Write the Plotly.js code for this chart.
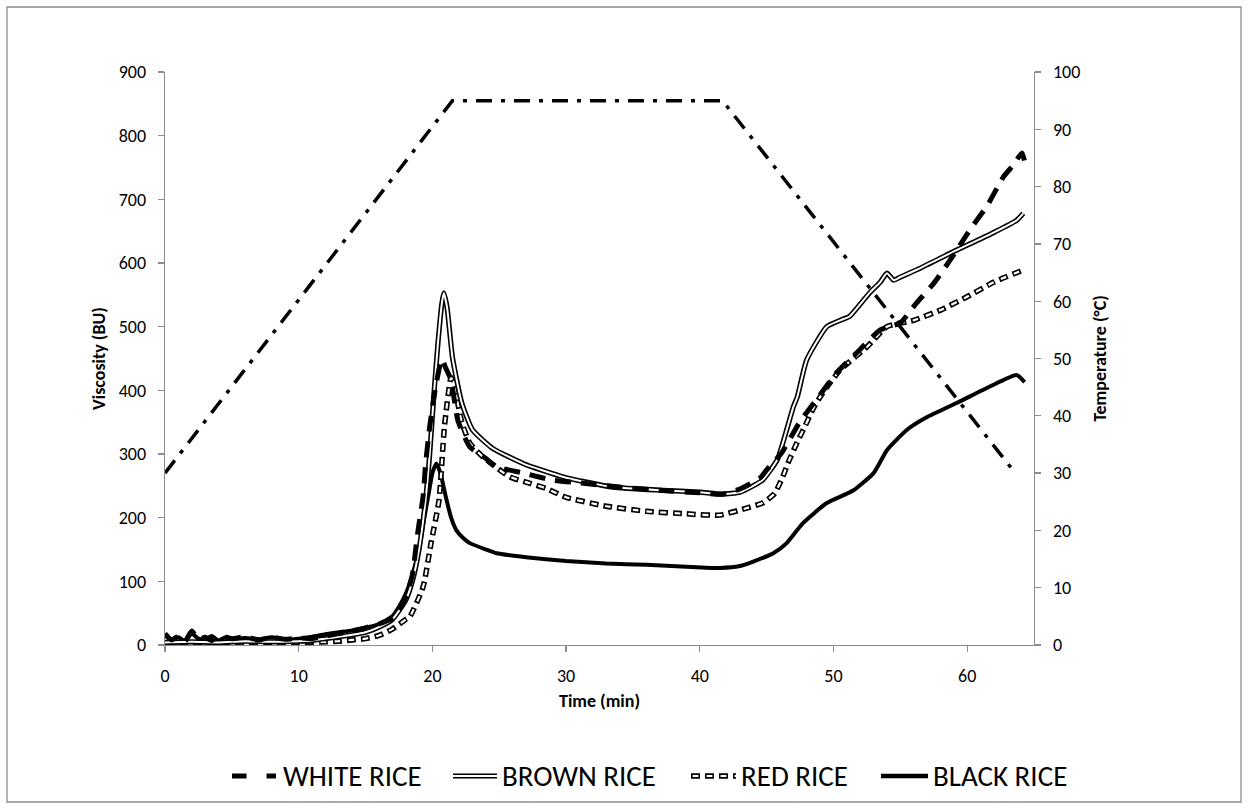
<!DOCTYPE html>
<html>
<head>
<meta charset="utf-8">
<script src="https://cdn.plot.ly/plotly-3.0.1.min.js"></script>
<style>html,body{margin:0;padding:0;background:#fff;}#chart{width:1248px;height:809px;}</style>
</head>
<body>
<div id="chart"></div>
<script>
// ---- data ----
const timeTemp = [0, 21.5, 41.7, 63.6];
const temperature = [30, 95, 95, 30];

const timeWhite = [0,0.5,1,1.5,2,2.5,3,3.5,4,5,6,7,8,9,10,11,12,13,14,15,16,17,17.5,18,18.5,18.9,19.3,19.5,19.8,20.2,20.7,21,21.4,21.9,22.8,24,24.8,26.8,29,31.3,34,37,40,41.7,43,44.5,45,46.1,47.5,49,50.2,51.7,53.5,55,56.2,57.5,58.9,60.2,61.5,62.7,63.5,64.1,64.3];
const viscWhite = [18,8,14,6,22,9,12,7,15,10,13,8,12,9,11,10,14,18,22,27,33,42,55,75,110,176,233,286,343,400,449,435,416,353,311,293,280,270,259,254,248,243,239,237,245,262,275,301,351,393,427,458,495,506,537,568,610,652,690,735,755,773,759];

const timeBrown = [0,2,4,6,8,10,11,12,13,14,15,16,17,18,18.5,19,19.5,19.8,20.1,20.4,20.7,20.85,21.1,21.5,22.2,23,24.5,26.8,29.8,33.5,37.2,40,41.7,43,44,44.7,45.8,46.5,47,47.3,48,49.5,50.5,51.2,52.7,53.5,54,54.5,55,56.2,58.9,61.9,63.7,64.2];
const viscBrown = [4,5,4,6,5,6,7,10,13,16,20,28,40,70,100,150,230,300,390,470,535,553,530,452,380,338,309,285,264,248,243,240,237,240,250,259,291,338,374,390,448,500,510,516,553,570,584,573,578,589,617,647,667,678];

const timeRed = [0,2,4,6,8,10,12,13,14,15,16,17,18,18.3,19.3,19.9,20.5,20.9,21.4,21.7,22.2,22.8,23.8,25.8,27.3,28.5,30,33,36,39,41.5,43.5,44.7,45.6,46.2,46.7,47.3,47.9,48.5,49.2,50.5,52.5,54,56,58,60,62,64.2];
const viscRed = [3,3,4,3,4,4,5,6,8,10,15,25,40,44,91,160,228,343,420,400,350,317,295,264,254,246,232,218,210,206,204,215,223,238,264,291,319,345,372,396,432,468,500,510,526,547,570,589];

const timeBlack = [0,0.5,1,1.5,2,2.5,3,3.5,4,4.5,5,6,7,8,9,10,11,12,13,14,15,16,17,17.5,18,18.5,19,19.4,19.7,20,20.3,20.6,21,21.4,21.8,22.3,22.8,24,24.8,27,30,33,36,39,41.5,43,44,45.5,46.5,47.7,49.5,51.5,53,54,55.5,57,59.2,61.7,63.7,64.3];
const viscBlack = [15,8,12,6,18,10,9,14,7,12,10,11,9,12,8,10,13,17,20,23,27,33,45,60,80,110,150,200,235,270,285,270,233,200,180,168,160,150,144,138,132,128,126,123,121,124,131,144,160,191,223,243,270,306,338,358,380,406,424,413];

const legendLabels = ["WHITE RICE", "BROWN RICE", "RED RICE", "BLACK RICE"];
const xTicks = [0,10,20,30,40,50,60];

// ---- layout helpers (pixel -> paper) ----
const L = 165, R = 1034, T = 72, B = 645;
const px = p => (p - L) / (R - L);
const py = p => (B - p) / (B - T);

const redOuter = '9px,5px';
const redInner = '0.01px,1.6px,5.8px,6.59px';

const traces = [
  {x: timeTemp, y: temperature, yaxis: 'y2', mode: 'lines', line: {color: '#000', width: 3.5, dash: '16px,9px,4px,9px'}, showlegend: false, hoverinfo: 'skip'},
  {x: timeBlack, y: viscBlack, mode: 'lines', line: {color: '#000', width: 4, shape: 'spline', smoothing: 0.5}, showlegend: false},
  {x: timeRed, y: viscRed, mode: 'lines', line: {color: '#000', width: 5.5, dash: redOuter, shape: 'spline', smoothing: 0.5}, showlegend: false},
  {x: timeRed, y: viscRed, mode: 'lines', line: {color: '#fff', width: 2.2, dash: redInner, shape: 'spline', smoothing: 0.5}, showlegend: false},
  {x: timeBrown, y: viscBrown, mode: 'lines', line: {color: '#000', width: 5.2, shape: 'spline', smoothing: 0.5}, showlegend: false},
  {x: timeBrown, y: viscBrown, mode: 'lines', line: {color: '#fff', width: 2, shape: 'spline', smoothing: 0.5}, showlegend: false},
  {x: timeWhite, y: viscWhite, mode: 'lines', line: {color: '#000', width: 5, dash: '16px,10px', shape: 'spline', smoothing: 0.5}, showlegend: false}
];

const tickFont = {family: "Carlito, 'Noto Sans', sans-serif", size: 18, color: '#000'};
const titleFont = {family: "Carlito, 'Noto Sans', sans-serif", size: 18, color: '#000'};
const axisCommon = {showline: true, linecolor: '#8c8c8c', linewidth: 1.3, ticks: 'outside', ticklen: 6, tickcolor: '#8c8c8c', tickwidth: 1.3, showgrid: false, zeroline: false, tickfont: tickFont, ticklabelstandoff: 8};

const legY = 776;
const legItems = [
  {sym: [232, 276], txt: 281},
  {sym: [453, 497], txt: 500},
  {sym: [691, 736], txt: 739},
  {sym: [881, 928], txt: 931}
];
const shapes = [
  {type: 'rect', xref: 'paper', yref: 'paper', x0: px(7), x1: px(1241), y0: py(802), y1: py(7), line: {color: '#8c8c8c', width: 1.3}, layer: 'below'},
  {type: 'line', xref: 'paper', yref: 'paper', x0: px(legItems[0].sym[0]), x1: px(legItems[0].sym[1]), y0: py(legY), y1: py(legY), line: {color: '#000', width: 5, dash: '14.5px,20px'}},
  {type: 'line', xref: 'paper', yref: 'paper', x0: px(legItems[1].sym[0]), x1: px(legItems[1].sym[1]), y0: py(legY), y1: py(legY), line: {color: '#000', width: 5.2}},
  {type: 'line', xref: 'paper', yref: 'paper', x0: px(legItems[1].sym[0]), x1: px(legItems[1].sym[1]), y0: py(legY), y1: py(legY), line: {color: '#fff', width: 2}},
  {type: 'line', xref: 'paper', yref: 'paper', x0: px(legItems[2].sym[0]), x1: px(legItems[2].sym[1]), y0: py(legY), y1: py(legY), line: {color: '#000', width: 5.5, dash: redOuter}},
  {type: 'line', xref: 'paper', yref: 'paper', x0: px(legItems[2].sym[0]), x1: px(legItems[2].sym[1]), y0: py(legY), y1: py(legY), line: {color: '#fff', width: 2.2, dash: redInner}},
  {type: 'line', xref: 'paper', yref: 'paper', x0: px(legItems[3].sym[0]), x1: px(legItems[3].sym[1]), y0: py(legY), y1: py(legY), line: {color: '#000', width: 4.5}}
];
const annotations = legendLabels.map((t, i) => ({
  text: t, xref: 'paper', yref: 'paper', x: px(legItems[i].txt), y: py(legY), xanchor: 'left', yanchor: 'middle', showarrow: false,
  font: {family: "Carlito, 'Noto Sans', sans-serif", size: 29, color: '#000'}
}));

const layout = {
  width: 1248, height: 809, autosize: false,
  margin: {l: L, r: 1248 - R, t: T, b: 809 - B, pad: 0},
  paper_bgcolor: '#fff', plot_bgcolor: '#fff',
  showlegend: false,
  xaxis: Object.assign({}, axisCommon, {range: [0, 65], tickvals: xTicks, title: {text: '<b>Time (min)</b>', font: titleFont, standoff: 8}}),
  yaxis: Object.assign({}, axisCommon, {range: [0, 900], dtick: 100, title: {text: '<b>Viscosity (BU)</b>', font: titleFont, standoff: 8}}),
  yaxis2: Object.assign({}, axisCommon, {range: [0, 100], dtick: 10, overlaying: 'y', side: 'right', title: {text: '<b>Temperature (°C)</b>', font: titleFont, standoff: 14}}),
  shapes: shapes,
  annotations: annotations
};

Plotly.newPlot('chart', traces, layout, {displayModeBar: false, staticPlot: true});
</script>
</body>
</html>
